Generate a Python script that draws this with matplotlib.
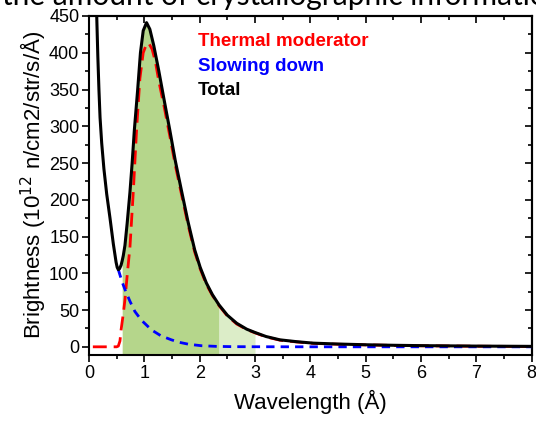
import matplotlib
matplotlib.use("Agg")
import matplotlib.pyplot as plt
import numpy as np
from matplotlib.ticker import MultipleLocator

plt.rcParams["font.family"] = ["Liberation Sans", "DejaVu Sans"]

# total brightness
wl_total = [0.12, 0.14, 0.16, 0.18, 0.2, 0.23, 0.27, 0.32, 0.38, 0.44, 0.49, 0.51,
            0.53, 0.55, 0.58, 0.6, 0.62, 0.65, 0.69, 0.74, 0.78, 0.82, 0.88, 0.93,
            0.98, 1.04, 1.1, 1.17, 1.26, 1.36, 1.46, 1.56, 1.67, 1.79, 1.91, 2.01,
            2.12, 2.23, 2.35, 2.5, 2.67, 2.85, 3.0, 3.2, 3.45, 3.75, 4.05, 4.5,
            5.0, 5.5, 6.0, 7.0, 8.0]
total = [520, 450, 395, 350, 312, 277, 242, 208, 175, 140, 115, 108,
         105, 106, 111, 117, 124, 138, 168, 210, 250, 295, 350, 400,
         430, 441, 432, 410, 376, 335, 295, 253, 213, 170, 132, 108,
         87, 71, 57, 43, 32, 24, 19.5, 14, 9.5, 7, 5, 3.8,
         2.8, 2.1, 1.6, 1.0, 0.6]

# thermal moderator
wl_thermal = [0.07, 0.5, 0.53, 0.56, 0.58, 0.62, 0.65, 0.7, 0.74, 0.8, 0.86, 0.92,
              0.98, 1.04, 1.08, 1.14, 1.2, 1.26, 1.36, 1.46, 1.56, 1.67, 1.79,
              1.91, 2.01, 2.12, 2.23, 2.35, 2.5, 2.67, 2.85, 3.0, 3.2, 3.45, 3.75,
              4.05, 4.5, 5.0, 5.5, 6.0, 7.0, 8.0]
thermal = [0, 0, 1, 8, 23, 45, 64, 105, 135, 210, 295, 365,
           400, 412, 413, 405, 388, 362, 326, 287, 247, 208, 166,
           129, 106, 85, 70, 56, 42, 31, 23.5, 19, 13.5, 9, 6.6,
           4.7, 3.5, 2.6, 1.9, 1.4, 0.8, 0.4]

# slowing down
wl_slow = [0.53, 0.6, 0.65, 0.74, 0.83, 0.95, 1.13, 1.3, 1.49, 1.64, 1.8, 2.03,
           2.3, 2.6, 3.0, 4.0, 5.0, 6.0, 7.0, 8.0]
slow = [105, 88, 78, 62, 48, 36, 23, 15, 9.5, 6, 3.5, 1.5,
        0.6, 0.2, 0.1, 0, 0, 0, 0, 0]

fill_dark = (0.6, 2.35)
fill_light = (2.35, 3.0)

fig = plt.figure(figsize=(5.36, 4.21), dpi=100)
ax = fig.add_axes([0.166, 0.157, 0.826, 0.805])

wl_t = np.array(wl_total)
tot = np.array(total)
ax.fill_between(wl_t, tot, -11, where=(wl_t >= fill_dark[0]) & (wl_t <= fill_dark[1]),
                color="#b5d68b", lw=0, zorder=1)
ax.fill_between(wl_t, tot, -11, where=(wl_t >= fill_light[0]) & (wl_t <= fill_light[1]),
                color="#dcedc8", lw=0, zorder=1)

ax.plot(wl_thermal, thermal, color="#ff0000", lw=2.0, dashes=(5, 2.5), zorder=3)
ax.plot(wl_slow, slow, color="#0000ff", lw=2.0, dashes=(3, 2.2), zorder=3)
ax.plot(wl_total, total, color="black", lw=2.2, zorder=4)

ax.set_xlim(0, 8)
ax.set_ylim(-11, 450)
ax.xaxis.set_major_locator(MultipleLocator(1))
ax.xaxis.set_minor_locator(MultipleLocator(0.5))
ax.yaxis.set_major_locator(MultipleLocator(50))
ax.yaxis.set_minor_locator(MultipleLocator(25))
ax.tick_params(which="both", direction="out", top=False, right=False, labelsize=13,
               width=1.2, pad=2)
ax.tick_params(which="major", length=5)
ax.tick_params(which="minor", length=3)

# inward ticks on top and right
secx = ax.secondary_xaxis("top")
secx.xaxis.set_major_locator(MultipleLocator(1))
secx.xaxis.set_minor_locator(MultipleLocator(0.5))
secx.tick_params(which="both", direction="in", labeltop=False, width=1.2)
secx.tick_params(which="major", length=5)
secx.tick_params(which="minor", length=3)
secy = ax.secondary_yaxis("right")
secy.yaxis.set_major_locator(MultipleLocator(50))
secy.yaxis.set_minor_locator(MultipleLocator(25))
secy.tick_params(which="both", direction="in", labelright=False, width=1.2)
secy.tick_params(which="major", length=5)
secy.tick_params(which="minor", length=3)
for s in list(ax.spines.values()) + [secx.spines["top"], secy.spines["right"]]:
    s.set_linewidth(1.5)

ax.set_xlabel("Wavelength (Å)", fontsize=16, labelpad=6)
ax.set_ylabel("Brightness (10$^{12}$ n/cm2/str/s/Å)", fontsize=16, labelpad=1)

ax.text(1.97, 415, "Thermal moderator", color="#ff0000", fontsize=13.5, fontweight="bold",
        va="center")
ax.text(1.97, 381, "Slowing down", color="#0000ff", fontsize=13.5, fontweight="bold",
        va="center")
ax.text(1.97, 348, "Total", color="black", fontsize=13.5, fontweight="bold", va="center")

# caption line from the page above, cut off by the image edge
fig.text(0.003, 1 - 5 / 421, "the amount of crystallographic information", fontsize=21.5,
         va="baseline", ha="left", family=["Lato", "DejaVu Sans"])

fig.savefig("out.png", dpi=100)
